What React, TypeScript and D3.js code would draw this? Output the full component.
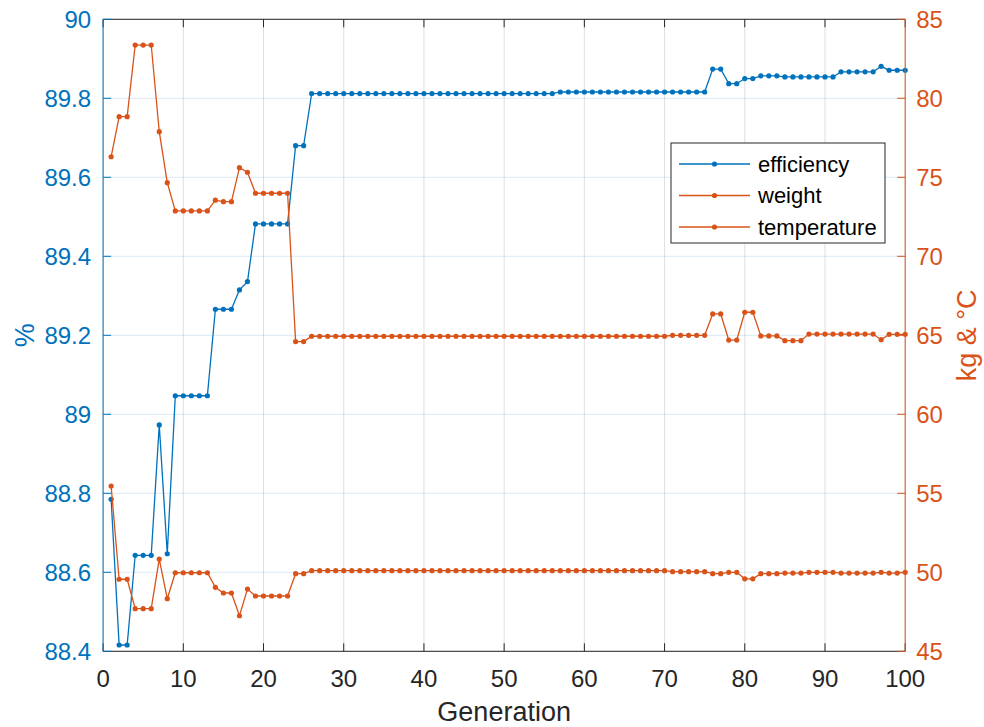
import React from "react";
import * as d3 from "d3";

// Generation index 1..100
const generations: number[] = d3.range(1, 101);

// Efficiency [%] per generation
const efficiency: number[] = [
  88.785, 88.416, 88.416, 88.643, 88.643, 88.643, 88.973, 88.647, 89.047, 89.047,
  89.047, 89.047, 89.047, 89.266, 89.266, 89.266, 89.315, 89.336, 89.482, 89.482,
  89.482, 89.482, 89.482, 89.68, 89.68, 89.812, 89.812, 89.812, 89.812, 89.812,
  89.812, 89.812, 89.812, 89.812, 89.812, 89.812, 89.812, 89.812, 89.812, 89.812,
  89.812, 89.812, 89.812, 89.812, 89.812, 89.812, 89.812, 89.812, 89.812, 89.812,
  89.812, 89.812, 89.812, 89.812, 89.812, 89.812, 89.816, 89.816, 89.816, 89.816,
  89.816, 89.816, 89.816, 89.816, 89.816, 89.816, 89.816, 89.816, 89.816, 89.816,
  89.816, 89.816, 89.816, 89.816, 89.816, 89.874, 89.874, 89.837, 89.837, 89.85,
  89.85, 89.857, 89.857, 89.857, 89.854, 89.854, 89.854, 89.854, 89.854, 89.854,
  89.854, 89.867, 89.867, 89.867, 89.867, 89.867, 89.881, 89.871, 89.871, 89.871,
];

// Weight [kg] per generation
const weight: number[] = [
  76.3, 78.84, 78.84, 83.37, 83.37, 83.37, 77.89, 74.66, 72.87, 72.87,
  72.87, 72.87, 72.87, 73.55, 73.46, 73.46, 75.61, 75.32, 73.99, 73.99,
  73.99, 73.99, 73.99, 64.6, 64.6, 64.94, 64.94, 64.94, 64.94, 64.94,
  64.94, 64.94, 64.94, 64.94, 64.94, 64.94, 64.94, 64.94, 64.94, 64.94,
  64.94, 64.94, 64.94, 64.94, 64.94, 64.94, 64.94, 64.94, 64.94, 64.94,
  64.94, 64.94, 64.94, 64.94, 64.94, 64.94, 64.94, 64.94, 64.94, 64.94,
  64.94, 64.94, 64.94, 64.94, 64.94, 64.94, 64.94, 64.94, 64.94, 64.94,
  65.0, 65.0, 65.0, 65.0, 65.0, 66.35, 66.35, 64.7, 64.7, 66.46,
  66.46, 64.96, 64.96, 64.96, 64.66, 64.66, 64.66, 65.08, 65.08, 65.08,
  65.08, 65.08, 65.08, 65.08, 65.08, 65.08, 64.72, 65.06, 65.06, 65.06,
];

// Temperature [°C] per generation
const temperature: number[] = [
  55.46, 49.56, 49.56, 47.7, 47.7, 47.7, 50.84, 48.33, 49.97, 49.97,
  49.97, 49.97, 49.97, 49.05, 48.69, 48.69, 47.25, 48.94, 48.5, 48.5,
  48.5, 48.5, 48.5, 49.91, 49.91, 50.1, 50.1, 50.1, 50.1, 50.1,
  50.1, 50.1, 50.1, 50.1, 50.1, 50.1, 50.1, 50.1, 50.1, 50.1,
  50.1, 50.1, 50.1, 50.1, 50.1, 50.1, 50.1, 50.1, 50.1, 50.1,
  50.1, 50.1, 50.1, 50.1, 50.1, 50.1, 50.1, 50.1, 50.1, 50.1,
  50.1, 50.1, 50.1, 50.1, 50.1, 50.1, 50.1, 50.1, 50.1, 50.1,
  50.04, 50.04, 50.04, 50.04, 50.04, 49.91, 49.91, 50.0, 50.0, 49.59,
  49.59, 49.91, 49.91, 49.91, 49.95, 49.95, 49.95, 50.0, 50.0, 50.0,
  50.0, 49.95, 49.95, 49.95, 49.95, 49.95, 50.0, 49.95, 49.95, 50.0,
];

const xTicks: number[] = [0, 10, 20, 30, 40, 50, 60, 70, 80, 90, 100];
const leftTicks: number[] = [88.4, 88.6, 88.8, 89, 89.2, 89.4, 89.6, 89.8, 90];
const rightTicks: number[] = [45, 50, 55, 60, 65, 70, 75, 80, 85];

const seriesNames: string[] = ["efficiency", "weight", "temperature"];

const BLUE = "#0072BD";
const ORANGE = "#D95319";
const DARK = "#262626";
const FONT = "'Liberation Sans', Arial, Helvetica, sans-serif";

const W = 984;
const H = 727;
const left = 103.1;
const right = 905.2;
const top = 19.3;
const bottom = 651.3;

export default function App() {
  const x = d3.scaleLinear().domain([0, 100]).range([left, right]);
  const yL = d3.scaleLinear().domain([88.4, 90]).range([bottom, top]);
  const yR = d3.scaleLinear().domain([45, 85]).range([bottom, top]);

  const lineL = d3
    .line<number>()
    .x((_, i) => x(generations[i]))
    .y((d) => yL(d));
  const lineR = d3
    .line<number>()
    .x((_, i) => x(generations[i]))
    .y((d) => yR(d));

  const series = [
    { name: seriesNames[0], data: efficiency, color: BLUE, y: yL, line: lineL },
    { name: seriesNames[1], data: weight, color: ORANGE, y: yR, line: lineR },
    { name: seriesNames[2], data: temperature, color: ORANGE, y: yR, line: lineR },
  ];

  const tickLen = 8;
  const tickFont = 24;
  const titleFont = 27;

  // legend geometry
  const lg = { x: 671, y: 143, w: 214, h: 100, row: 31.5 };

  return (
    <svg
      width={W}
      height={H}
      style={{ position: "absolute", left: 0, top: 0, background: "#fff" }}
      fontFamily={FONT}
    >
      <rect x={0} y={0} width={W} height={H} fill="#fff" />

      {/* vertical grid */}
      {xTicks.map((t) => (
        <line
          key={"gx" + t}
          x1={x(t)}
          x2={x(t)}
          y1={top}
          y2={bottom}
          stroke={DARK}
          strokeOpacity={0.15}
          strokeWidth={1}
        />
      ))}
      {/* horizontal grid (left axis) */}
      {leftTicks.map((t) => (
        <line
          key={"gy" + t}
          x1={left}
          x2={right}
          y1={yL(t)}
          y2={yL(t)}
          stroke={BLUE}
          strokeOpacity={0.15}
          strokeWidth={1}
        />
      ))}

      {/* data */}
      {series.map((s) => (
        <g key={s.name}>
          <path d={s.line(s.data) ?? ""} fill="none" stroke={s.color} strokeWidth={1.3} />
          {s.data.map((v, i) => (
            <circle key={i} cx={x(generations[i])} cy={s.y(v)} r={2.6} fill={s.color} />
          ))}
        </g>
      ))}

      {/* box: top and bottom */}
      <line x1={left} x2={right} y1={top} y2={top} stroke={DARK} strokeWidth={1} />
      <line x1={left} x2={right} y1={bottom} y2={bottom} stroke={DARK} strokeWidth={1} />
      {/* x ticks (bottom and top, inward) */}
      {xTicks.map((t) => (
        <g key={"xt" + t}>
          <line x1={x(t)} x2={x(t)} y1={bottom} y2={bottom - tickLen} stroke={DARK} />
          <line x1={x(t)} x2={x(t)} y1={top} y2={top + tickLen} stroke={DARK} />
          <text
            x={x(t)}
            y={bottom + 36}
            textAnchor="middle"
            fontSize={tickFont}
            fill={DARK}
          >
            {t}
          </text>
        </g>
      ))}

      {/* left axis */}
      <line x1={left} x2={left} y1={top} y2={bottom} stroke={BLUE} strokeWidth={1} />
      {leftTicks.map((t) => (
        <g key={"lt" + t}>
          <line x1={left} x2={left + tickLen} y1={yL(t)} y2={yL(t)} stroke={BLUE} />
          <text
            x={left - 12}
            y={yL(t)}
            dy="0.35em"
            textAnchor="end"
            fontSize={tickFont}
            fill={BLUE}
          >
            {d3.format("~g")(t)}
          </text>
        </g>
      ))}

      {/* right axis */}
      <line x1={right} x2={right} y1={top} y2={bottom} stroke={ORANGE} strokeWidth={1} />
      {rightTicks.map((t) => (
        <g key={"rt" + t}>
          <line x1={right} x2={right - tickLen} y1={yR(t)} y2={yR(t)} stroke={ORANGE} />
          <text
            x={right + 11}
            y={yR(t)}
            dy="0.35em"
            textAnchor="start"
            fontSize={tickFont}
            fill={ORANGE}
          >
            {t}
          </text>
        </g>
      ))}

      {/* axis titles */}
      <text x={(left + right) / 2} y={721} textAnchor="middle" fontSize={titleFont} fill={DARK}>
        Generation
      </text>
      <text
        transform={`translate(34, ${(top + bottom) / 2}) rotate(-90)`}
        textAnchor="middle"
        fontSize={titleFont}
        fill={BLUE}
      >
        %
      </text>
      <text
        transform={`translate(976, ${(top + bottom) / 2}) rotate(-90)`}
        textAnchor="middle"
        fontSize={titleFont}
        fill={ORANGE}
      >
        kg &amp; °C
      </text>

      {/* legend */}
      <rect x={lg.x} y={lg.y} width={lg.w} height={lg.h} fill="#fff" stroke={DARK} strokeWidth={1} />
      {series.map((s, i) => {
        const cy = lg.y + 21 + i * lg.row;
        return (
          <g key={"lg" + s.name}>
            <line x1={lg.x + 8} x2={lg.x + 79} y1={cy} y2={cy} stroke={s.color} strokeWidth={1.3} />
            <circle cx={lg.x + 43.5} cy={cy} r={2.6} fill={s.color} />
            <text x={lg.x + 87} y={cy} dy="0.35em" fontSize={22} fill="#000">
              {s.name}
            </text>
          </g>
        );
      })}
    </svg>
  );
}
